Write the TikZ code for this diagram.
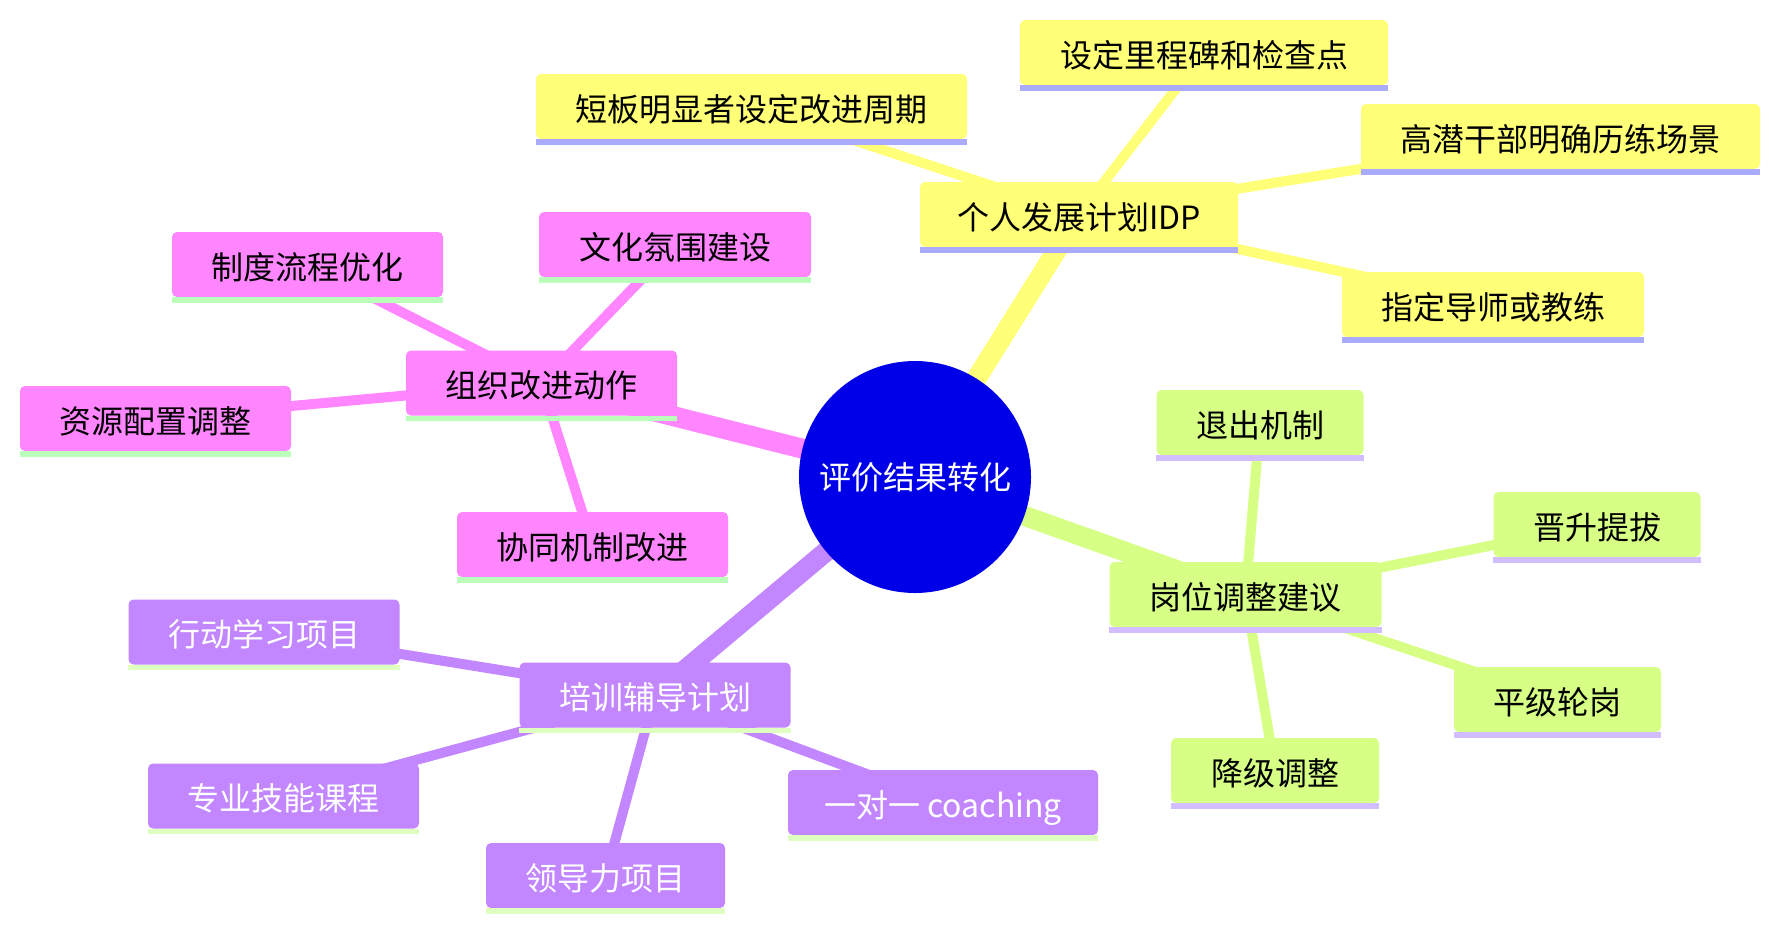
\documentclass[tikz,border=0pt]{standalone}
\usepackage{fontspec}
\setmainfont{Noto Sans CJK SC}
\usetikzlibrary{backgrounds}
\definecolor{rootc}{HTML}{0000E8}
\definecolor{yel}{HTML}{FFFF78}
\definecolor{yelU}{HTML}{AAAAFF}
\definecolor{pnk}{HTML}{FF86FF}
\definecolor{pnkU}{HTML}{BAFFBA}
\definecolor{prp}{HTML}{C286FF}
\definecolor{prpU}{HTML}{DEFFC0}
\definecolor{grn}{HTML}{D7FF86}
\definecolor{grnU}{HTML}{D2BEFF}
\newcommand{\nodeul}[2]{\draw[#2, line width=5.5pt] ([yshift=-2.75pt]#1.south west) -- ([yshift=-2.75pt]#1.south east);}
\tikzset{
  box/.style={rounded corners=5pt, minimum height=65pt, inner sep=0pt, anchor=center, text height=29.6pt, text depth=0pt, font=\fontsize{32}{38}\selectfont},
  ybox/.style={box, fill=yel, text=black},
  pbox/.style={box, fill=pnk, text=black},
  vbox/.style={box, fill=prp, text=white},
  gbox/.style={box, fill=grn, text=black},
  rootedge/.style={line width=20pt},
  leafedge/.style={line width=10pt}
}
\begin{document}
\begin{tikzpicture}[x=1pt, y=-1pt]
\useasboundingbox (0,0) rectangle (1780,930);
% root
\node[circle, fill=rootc, minimum size=232pt, inner sep=0pt, text=white, font=\fontsize{32}{38}\selectfont] (root) at (915,477) {评价结果转化};
% yellow section
\node[ybox, minimum width=318pt] (P) at (1079,214.5) {个人发展计划IDP};
\node[ybox, minimum width=368pt] (Y1) at (1204,52.5) {设定里程碑和检查点};
\node[ybox, minimum width=431pt] (Y2) at (751.5,106.5) {短板明显者设定改进周期};
\node[ybox, minimum width=399pt] (Y3) at (1560.5,136.5) {高潜干部明确历练场景};
\node[ybox, minimum width=302pt] (Y4) at (1493,304.5) {指定导师或教练};
% pink section
\node[pbox, minimum width=271pt] (O) at (541.5,383) {组织改进动作};
\node[pbox, minimum width=271pt] (O1) at (307.5,264.5) {制度流程优化};
\node[pbox, minimum width=272pt] (O2) at (675,244.5) {文化氛围建设};
\node[pbox, minimum width=271pt] (O3) at (155.5,418.5) {资源配置调整};
\node[pbox, minimum width=271pt] (O4) at (592.5,544.5) {协同机制改进};
% purple section
\node[vbox, minimum width=271pt] (T) at (655,695) {培训辅导计划};
\node[vbox, minimum width=271pt] (T1) at (264,632) {行动学习项目};
\node[vbox, minimum width=271pt] (T2) at (283.5,796) {专业技能课程};
\node[vbox, minimum width=239pt] (T3) at (605.5,875.5) {领导力项目};
\node[vbox, minimum width=310pt] (T4) at (943,802.5) {一对一 coaching};
% green section
\node[gbox, minimum width=272pt] (G) at (1245.5,594.5) {岗位调整建议};
\node[gbox, minimum width=207pt] (G1) at (1260,422.5) {退出机制};
\node[gbox, minimum width=207pt] (G2) at (1597,524.5) {晋升提拔};
\node[gbox, minimum width=207pt] (G3) at (1557.5,699.5) {平级轮岗};
\node[gbox, minimum width=208pt] (G4) at (1275,770.5) {降级调整};
% underlines
\foreach \n in {P,Y1,Y2,Y3,Y4}{\nodeul{\n}{yelU}}
\foreach \n in {O,O1,O2,O3,O4}{\nodeul{\n}{pnkU}}
\foreach \n in {T,T1,T2,T3,T4}{\nodeul{\n}{prpU}}
\foreach \n in {G,G1,G2,G3,G4}{\nodeul{\n}{grnU}}
% edges
\begin{scope}[on background layer]
\fill[white] (0,0) rectangle (1780,930);
\draw[yel, rootedge] (root.center) -- (P.center);
\draw[pnk, rootedge] (root.center) -- (O.center);
\draw[prp, rootedge] (root.center) -- (T.center);
\draw[grn, rootedge] (root.center) -- (G.center);
\foreach \n in {Y1,Y2,Y3,Y4}{\draw[yel, leafedge] (P.center) -- (\n.center);}
\foreach \n in {O1,O2,O3,O4}{\draw[pnk, leafedge] (O.center) -- (\n.center);}
\foreach \n in {T1,T2,T3,T4}{\draw[prp, leafedge] (T.center) -- (\n.center);}
\foreach \n in {G1,G2,G3,G4}{\draw[grn, leafedge] (G.center) -- (\n.center);}
\end{scope}
\end{tikzpicture}
\end{document}
